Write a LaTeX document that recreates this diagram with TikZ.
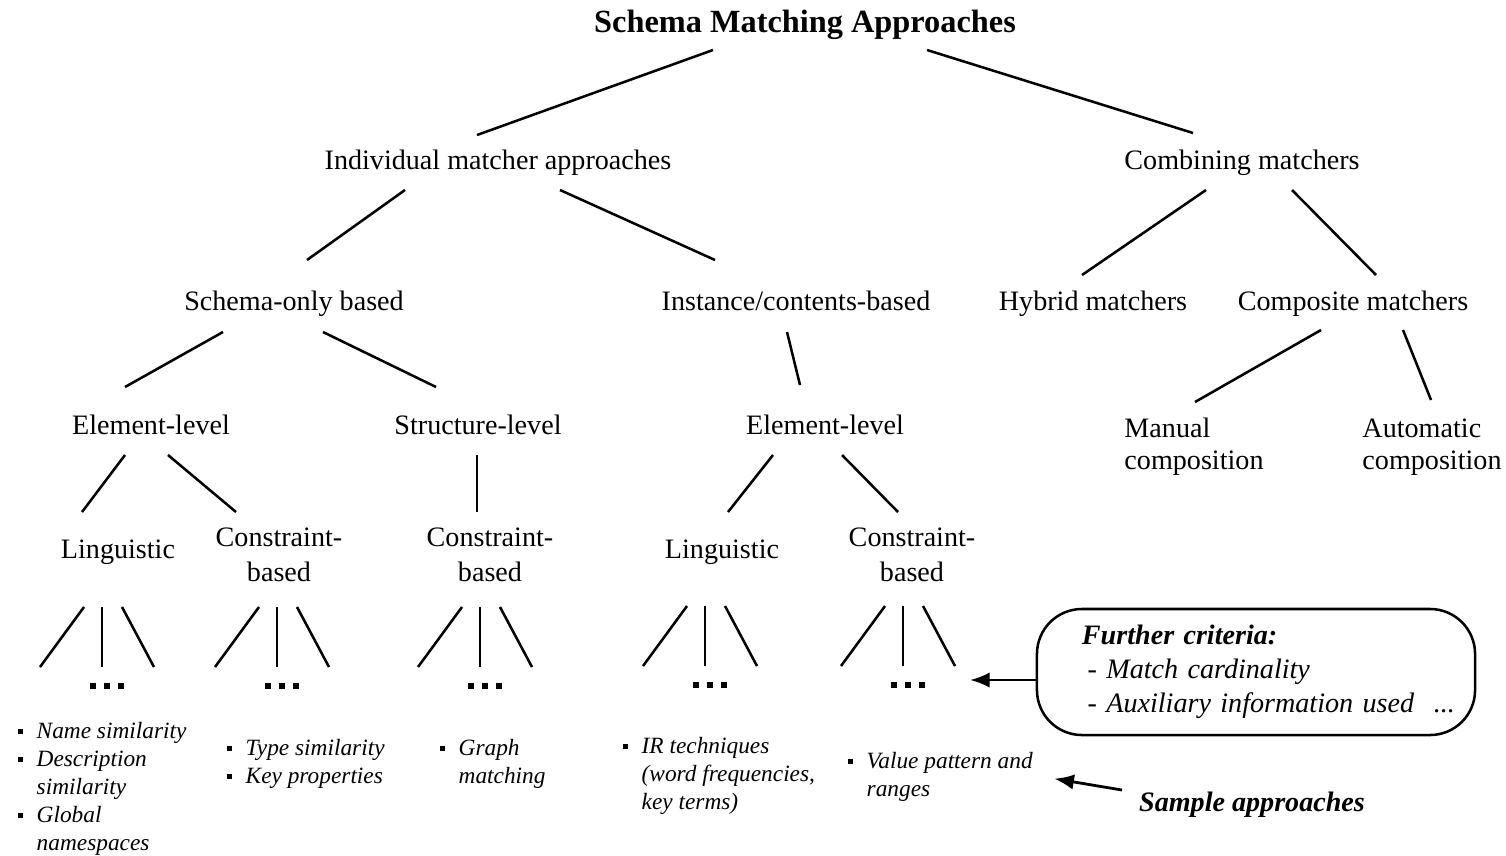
\documentclass[tikz,border=0pt]{standalone}
\usepackage{fontspec}
\setmainfont{Liberation Serif}
\usepackage{tikz}
\usetikzlibrary{arrows.meta}
\newcommand{\tridots}{\rule{2.1pt}{2.1pt}\hspace{3pt}\rule{2.1pt}{2.1pt}\hspace{3pt}\rule{2.1pt}{2.1pt}}
\newcommand{\sqbullet}{\rule[1.6pt]{1.8pt}{1.8pt}}
\tikzstyle{heading} = [inner sep=1pt, font=\fontsize{11.5}{13}\selectfont\bfseries]
\tikzstyle{approach} = [inner sep=1pt, text height=7pt, text depth=2.2pt, font=\fontsize{10}{12}\selectfont]
\tikzstyle{twoline} = [inner sep=1pt, align=center, font=\fontsize{10}{12.4}\selectfont]
\tikzstyle{leftline} = [inner sep=1pt, align=left, font=\fontsize{10}{11.3}\selectfont]
\tikzstyle{moredots} = [inner sep=0pt]
\tikzstyle{examplelist} = [inner sep=0pt, anchor=north west, font=\fontsize{8.3}{10}\selectfont\itshape]
\tikzstyle{criteria} = [draw, line width=0.9pt, rounded corners=16pt, minimum width=5.475cm, minimum height=1.575cm, text width=4.35cm, align=left, font=\fontsize{10}{12}\selectfont\itshape]
\tikzstyle{samplenote} = [inner sep=1pt, font=\fontsize{10}{12}\selectfont\bfseries\itshape]
\tikzstyle{link} = [line width=0.9pt]
\tikzstyle{arrow} = [line width=1pt, -{Latex[length=7pt,width=5.5pt]}]

\begin{document}
\begin{tikzpicture}[x=0.0125cm, y=-0.0125cm]
    \useasboundingbox (0,0) rectangle (1506,855);

    \node (title) [heading] at (805,25) {Schema Matching Approaches};
    \node (ind) [approach] at (498,163) {Individual matcher approaches};
    \node (comb) [approach] at (1242,163) {Combining matchers};
    \node (schema) [approach] at (294,304) {Schema-only based};
    \node (inst) [approach] at (796,304) {Instance/contents-based};
    \node (hybrid) [approach] at (1093,304) {Hybrid matchers};
    \node (comp) [approach] at (1353,304) {Composite matchers};
    \node (elemA) [approach] at (151,428) {Element-level};
    \node (struct) [approach] at (478,428) {Structure-level};
    \node (elemB) [approach] at (825,428) {Element-level};
    \node (manual) [leftline] at (1194,447) {Manual\\composition};
    \node (autocomp) [leftline] at (1432,447) {Automatic\\composition};
    \node (lingA) [approach] at (118,552) {Linguistic};
    \node (consA) [twoline] at (279,555) {Constraint-\\based};
    \node (consB) [twoline] at (490,555) {Constraint-\\based};
    \node (lingB) [approach] at (722,552) {Linguistic};
    \node (consC) [twoline] at (912,555) {Constraint-\\based};

    \node (d1) [moredots] at (107,686) {\tridots};
    \node (d2) [moredots] at (282,686) {\tridots};
    \node (d3) [moredots] at (485,686) {\tridots};
    \node (d4) [moredots] at (710,685) {\tridots};
    \node (d5) [moredots] at (908,685) {\tridots};

    \node (l1) [examplelist] at (17,718) {\begin{tabular}{@{}l@{\hspace{5pt}}l@{}}
        \sqbullet & Name similarity\\ \sqbullet & Description\\ & similarity\\ \sqbullet & Global\\ & namespaces\end{tabular}};
    \node (l2) [examplelist] at (226,735) {\begin{tabular}{@{}l@{\hspace{5pt}}l@{}}
        \sqbullet & Type similarity\\ \sqbullet & Key properties\end{tabular}};
    \node (l3) [examplelist] at (439,735) {\begin{tabular}{@{}l@{\hspace{5pt}}l@{}}
        \sqbullet & Graph\\ & matching\end{tabular}};
    \node (l4) [examplelist] at (622,733) {\begin{tabular}{@{}l@{\hspace{5pt}}l@{}}
        \sqbullet & IR techniques\\ & (word frequencies,\\ & key terms)\end{tabular}};
    \node (l5) [examplelist] at (847,748) {\begin{tabular}{@{}l@{\hspace{5pt}}l@{}}
        \sqbullet & Value pattern and\\ & ranges\end{tabular}};

    \node (crit) [criteria] at (1256,672) {\textbf{Further criteria:}\\
        \hspace*{2pt}- Match cardinality\\
        \mbox{\hspace*{2pt}- Auxiliary information used\hspace{7pt}...}};
    \node (sample) [samplenote] at (1252,805) {Sample approaches};

    \draw [link] ([shift={(-92,25)}]title.center) -- ([shift={(-21,-28)}]ind.center);
    \draw [link] ([shift={(122,25)}]title.center) -- ([shift={(-49,-30)}]comb.center);
    \draw [link] ([shift={(-93,27)}]ind.center) -- ([shift={(13,-44)}]schema.center);
    \draw [link] ([shift={(62,27)}]ind.center) -- ([shift={(-81,-44)}]inst.center);
    \draw [link] ([shift={(-36,27)}]comb.center) -- ([shift={(-11,-29)}]hybrid.center);
    \draw [link] ([shift={(50,27)}]comb.center) -- ([shift={(23,-29)}]comp.center);
    \draw [link] ([shift={(-71,28)}]schema.center) -- ([shift={(-26,-41)}]elemA.center);
    \draw [link] ([shift={(29,28)}]schema.center) -- ([shift={(-42,-41)}]struct.center);
    \draw [link] ([shift={(-9,28)}]inst.center) -- ([shift={(-25,-43)}]elemB.center);
    \draw [link] ([shift={(-32,26)}]comp.center) -- ([shift={(1,-45)}]manual.center);
    \draw [link] ([shift={(50,26)}]comp.center) -- ([shift={(-1,-47)}]autocomp.center);
    \draw [link] ([shift={(-26,27)}]elemA.center) -- ([shift={(-36,-40)}]lingA.center);
    \draw [link] ([shift={(17,27)}]elemA.center) -- ([shift={(-43,-43)}]consA.center);
    \draw [link] ([shift={(-1,27)}]struct.center) -- ([shift={(-13,-43)}]consB.center);
    \draw [link] ([shift={(-52,27)}]elemB.center) -- ([shift={(6,-40)}]lingB.center);
    \draw [link] ([shift={(17,27)}]elemB.center) -- ([shift={(-14,-43)}]consC.center);

    \foreach \d in {d1,d2,d3,d4,d5} {
        \draw [link] ([shift={(-23,-79)}]\d.center) -- ([shift={(-67,-19)}]\d.center);
        \draw [link] ([shift={(-5,-79)}]\d.center) -- ([shift={(-5,-19)}]\d.center);
        \draw [link] ([shift={(15,-79)}]\d.center) -- ([shift={(47,-19)}]\d.center);
    }

    \draw [arrow] ([shift={(0,8)}]crit.west) -- ([shift={(62,-5)}]d5.center);
    \draw [arrow] ([shift={(-130,-15)}]sample.center) -- ([shift={(21,2)}]l5.east);
\end{tikzpicture}
\end{document}
